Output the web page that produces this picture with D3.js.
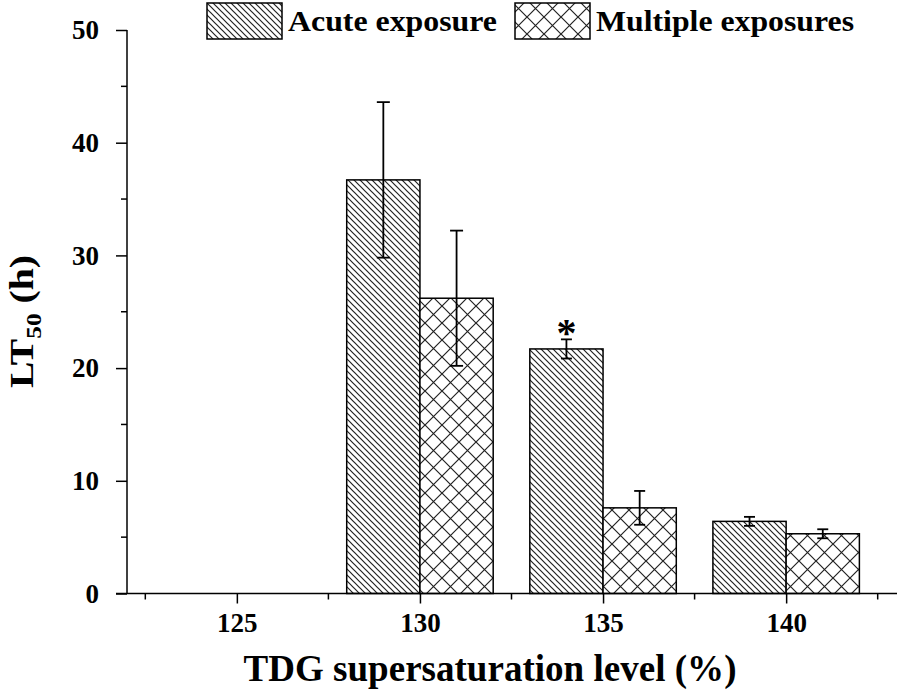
<!DOCTYPE html>
<html>
<head>
<meta charset="utf-8">
<script src="https://cdn.jsdelivr.net/npm/d3@7"></script>
<style>
  body { margin: 0; background: #fff; }
  text { font-family: "Liberation Serif", "Times New Roman", serif; font-weight: bold; fill: #000; }
</style>
</head>
<body>
<svg id="chart" width="898" height="693"></svg>
<script>
// TDG level (%) on the x axis
const levels = [125, 130, 135, 140];
// LT50 (h), no value at 125
const acute = [null, 36.7, 21.7, 6.4];
const acuteErr = [null, 6.9, 0.85, 0.4];
const multiple = [null, 26.2, 7.6, 5.3];
const multipleErr = [null, 6.0, 1.5, 0.4];
const yTicks = [0, 10, 20, 30, 40, 50];
const yMinor = [5, 15, 25, 35, 45];
const xMinor = [122.5, 127.5, 132.5, 137.5, 142.5];
const seriesNames = ["Acute exposure", "Multiple exposures"];
const significant = [false, false, true, false]; // asterisk above acute bar

const svg = d3.select("#chart");

const x = d3.scaleLinear().domain([122, 143]).range([127, 896]);
const y = d3.scaleLinear().domain([0, 50]).range([593.5, 30]);
const barW = x(2) - x(0);

// hatch patterns
const defs = svg.append("defs");
const diag = defs.append("pattern")
    .attr("id", "diag")
    .attr("patternUnits", "userSpaceOnUse")
    .attr("width", 6).attr("height", 6);
diag.append("rect").attr("width", 6).attr("height", 6).attr("fill", "#fff");
diag.append("path")
    .attr("d", "M0,0L6,6M-1,5L1,7M5,-1L7,1")
    .attr("stroke", "#222").attr("stroke-width", 1.2);

const cross = defs.append("pattern")
    .attr("id", "cross")
    .attr("patternUnits", "userSpaceOnUse")
    .attr("width", 17).attr("height", 17);
cross.append("rect").attr("width", 17).attr("height", 17).attr("fill", "#fff");
cross.append("path")
    .attr("d", "M0,0L17,17M17,0L0,17")
    .attr("stroke", "#222").attr("stroke-width", 1.2);

const fills = ["url(#diag)", "url(#cross)"];

// build bar records
const bars = [];
levels.forEach((lv, i) => {
    if (acute[i] != null) bars.push({lv: lv, v: acute[i], e: acuteErr[i], s: 0, star: significant[i]});
    if (multiple[i] != null) bars.push({lv: lv, v: multiple[i], e: multipleErr[i], s: 1, star: false});
});

svg.append("g")
    .selectAll("rect")
    .data(bars)
    .join("rect")
    .attr("x", d => d.s === 0 ? x(d.lv) - barW : x(d.lv))
    .attr("y", d => y(d.v))
    .attr("width", barW)
    .attr("height", d => y(0) - y(d.v))
    .attr("fill", d => fills[d.s])
    .attr("stroke", "#000")
    .attr("stroke-width", 1.5);

// error bars
const err = svg.append("g").attr("stroke", "#000").attr("stroke-width", 1.8);
bars.forEach(d => {
    const cx = d.s === 0 ? x(d.lv) - barW / 2 : x(d.lv) + barW / 2;
    const cap = d.e > 3 ? 13 : 11;
    err.append("line").attr("x1", cx).attr("x2", cx).attr("y1", y(d.v + d.e)).attr("y2", y(d.v - d.e));
    err.append("line").attr("x1", cx - cap / 2).attr("x2", cx + cap / 2).attr("y1", y(d.v + d.e)).attr("y2", y(d.v + d.e));
    err.append("line").attr("x1", cx - cap / 2).attr("x2", cx + cap / 2).attr("y1", y(d.v - d.e)).attr("y2", y(d.v - d.e));
    if (d.star) {
        svg.append("text")
            .attr("x", cx)
            .attr("y", y(d.v + d.e) + 7)
            .attr("text-anchor", "middle")
            .attr("font-size", 40)
            .text("*");
    }
});

// y axis
const yAxis = svg.append("g").attr("transform", `translate(${x(122)},0)`)
    .call(d3.axisLeft(y).tickValues(yTicks).tickSize(11).tickPadding(17));
yAxis.select(".domain").attr("d", `M0,${y(50)}V${y(0)}`);
yAxis.selectAll(".tick line").attr("stroke-width", 1.5);
yAxis.select(".domain").attr("stroke-width", 1.5);
yAxis.selectAll(".tick text").attr("font-size", 27).attr("font-family", null);
yAxis.append("g").selectAll("line")
    .data(yMinor)
    .join("line")
    .attr("x1", -6).attr("x2", 0)
    .attr("y1", d => y(d)).attr("y2", d => y(d))
    .attr("stroke", "#000").attr("stroke-width", 1.5);

// x axis
const xAxis = svg.append("g").attr("transform", `translate(0,${y(0)})`)
    .call(d3.axisBottom(x).tickValues(levels).tickSize(10).tickPadding(9));
xAxis.select(".domain").attr("d", `M116,0H897`).attr("stroke-width", 1.5);
xAxis.selectAll(".tick line").attr("stroke-width", 1.5);
xAxis.selectAll(".tick text").attr("font-size", 27).attr("font-family", null);
xAxis.append("g").selectAll("line")
    .data(xMinor)
    .join("line")
    .attr("x1", d => x(d)).attr("x2", d => x(d))
    .attr("y1", 0).attr("y2", 6)
    .attr("stroke", "#000").attr("stroke-width", 1.5);

// axis titles
svg.append("text")
    .attr("x", 490).attr("y", 681)
    .attr("text-anchor", "middle")
    .attr("font-size", 37)
    .attr("textLength", 493)
    .attr("lengthAdjust", "spacingAndGlyphs")
    .text("TDG supersaturation level (%)");

const yt = svg.append("text")
    .attr("transform", "translate(33,388) rotate(-90)")
    .attr("font-size", 33)
    .attr("textLength", 133)
    .attr("lengthAdjust", "spacingAndGlyphs");
yt.append("tspan").text("LT");
yt.append("tspan").attr("font-size", 21).attr("dy", 8).text("50");
yt.append("tspan").attr("dy", -8).text(" (h)");

// legend
const legX = [207, 515];
const legend = svg.append("g");
seriesNames.forEach((name, i) => {
    legend.append("rect")
        .attr("x", legX[i]).attr("y", 3)
        .attr("width", 75).attr("height", 36)
        .attr("fill", fills[i])
        .attr("stroke", "#000").attr("stroke-width", 1.5);
    legend.append("text")
        .attr("x", legX[i] + 81).attr("y", 31)
        .attr("font-size", 30)
        .attr("textLength", i === 0 ? 209 : 258)
        .attr("lengthAdjust", "spacingAndGlyphs")
        .text(name);
});
</script>
</body>
</html>
